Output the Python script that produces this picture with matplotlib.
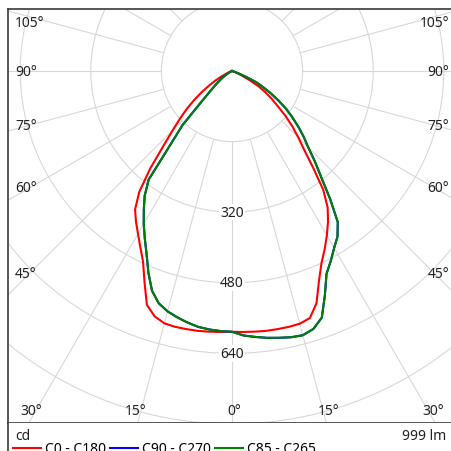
import numpy as np
import matplotlib
matplotlib.use("Agg")
import matplotlib.pyplot as plt
from matplotlib.patches import Circle

plt.rcParams["font.family"] = ["Noto Sans", "DejaVu Sans"]

# luminous intensity (cd) against gamma angle, one list per half plane
gamma = [0, 2.5, 5, 7.5, 10, 12.5, 15, 17.5, 20, 22.5, 25, 27.5, 30, 32.5, 35, 37.5, 40,
         42.5, 45, 47.5, 50, 52.5, 55, 57.5, 60, 62.5, 65, 67.5, 70, 72.5, 75, 80, 85, 90]
c0 = [591, 592, 593, 594, 594, 594, 593, 587, 560, 515, 480, 455, 430, 405, 378, 340, 286,
      242, 212, 185, 158, 130, 110, 90, 70, 45, 25, 14, 8, 4, 2, 0, 0, 0]
c180 = [591, 592, 593, 594, 594, 594, 592, 583, 564, 518, 477, 450, 426, 405, 383, 345, 288,
        230, 190, 160, 134, 108, 84, 62, 44, 28, 15, 8, 4, 1, 0, 0, 0, 0]
c90 = [591, 600, 605, 610, 614, 618, 620, 613, 595, 550, 507, 485, 463, 445, 418, 365, 315,
       278, 244, 220, 196, 172, 150, 125, 102, 80, 62, 35, 15, 6, 2, 0, 0, 0]
c270 = [591, 590, 588, 585, 579, 572, 564, 552, 530, 495, 458, 428, 400, 372, 345, 310, 215,
        165, 95, 65, 48, 35, 25, 16, 10, 6, 3, 1, 0, 0, 0, 0, 0, 0]
c85 = [591, 600, 605, 610, 614, 618, 620, 613, 595, 550, 507, 485, 463, 445, 418, 365, 315,
       278, 244, 220, 196, 172, 150, 125, 102, 80, 62, 35, 15, 6, 2, 0, 0, 0]
c265 = [591, 590, 588, 585, 579, 572, 564, 552, 530, 495, 458, 428, 400, 372, 345, 310, 215,
        165, 95, 65, 48, 35, 25, 16, 10, 6, 3, 1, 0, 0, 0, 0, 0, 0]

series = [
    ("C0 - C180", c0, c180, "#ff0000"),
    ("C90 - C270", c90, c270, "#0000ff"),
    ("C85 - C265", c85, c265, "#008000"),
]
rings = [160, 320, 480, 640, 800, 960]
ring_labels = [320, 480, 640]
side_angles = [45, 60, 75, 90, 105]
bottom_angles = [0, 15, 30]
unit_text = "cd"
flux_text = "999 lm"

W = 452
s = 0.44125  # px per cd
fs = 10
txt = "#222222"
fig = plt.figure(figsize=(W / 100, W / 100), dpi=100)
ax = fig.add_axes([8 / W, 28 / W, 448 / W, 414 / W])
ax.set_xlim(-224 / s, 224 / s)
ax.set_ylim(-352 / s, 62 / s)
ax.set_xticks([])
ax.set_yticks([])
for side in ["top", "left", "bottom"]:
    ax.spines[side].set_color("#3a3a3a")
    ax.spines[side].set_linewidth(1.2)
ax.spines["right"].set_visible(False)

grid = "#d8d8d8"
for r in rings:
    ax.add_patch(Circle((0, 0), r, fill=False, ec=grid, lw=0.8, zorder=1))
for a in range(0, 360, 15):
    t = np.radians(a)
    ax.plot([160 * np.sin(t), 1500 * np.sin(t)], [-160 * np.cos(t), -1500 * np.cos(t)],
            color=grid, lw=0.8, zorder=1)

for r in ring_labels:
    ax.text(0, -r, str(r), ha="center", va="center", fontsize=fs, color=txt,
            bbox=dict(boxstyle="square,pad=0.05", fc="white", ec="none"), zorder=2)

# angle labels along the frame
for a in side_angles:
    y = -(202 / s) / np.tan(np.radians(a)) if a != 90 else 0
    y = min(y, 49 / s)
    ax.text(-217 / s, y, f"{a}°", ha="left", va="center", fontsize=fs, color=txt)
    ax.text(217 / s, y, f"{a}°", ha="right", va="center", fontsize=fs, color=txt)
for a in bottom_angles:
    d = (340 * np.tan(np.radians(a)) + (5 if a else 2)) / s
    ax.text(-d if a else d, -340 / s, f"{a}°", ha="center", va="center", fontsize=fs, color=txt)
    if a:
        ax.text(d, -340 / s, f"{a}°", ha="center", va="center", fontsize=fs, color=txt)

g = np.radians(gamma)
handles = []
for name, right, left, col in series:
    right = np.array(right, float)
    left = np.array(left, float)
    x = np.concatenate([-left[::-1] * np.sin(g[::-1]), right * np.sin(g)])
    y = np.concatenate([-left[::-1] * np.cos(g[::-1]), -right * np.cos(g)])
    (ln,) = ax.plot(x, y, color=col, lw=1.5, zorder=3, label=name)
    handles.append(ln)

# footer box
fax = fig.add_axes([8 / W, -14 / W, 448 / W, 42 / W])
fax.set_xlim(0, 448)
fax.set_ylim(0, 42)
fax.set_xticks([])
fax.set_yticks([])
for side in ["top", "right", "bottom"]:
    fax.spines[side].set_visible(False)
fax.spines["left"].set_color("#3a3a3a")
fax.spines["left"].set_linewidth(1.2)
fax.text(7, 29, unit_text, ha="left", va="center", fontsize=fs, color=txt)
fax.text(438, 29, flux_text, ha="right", va="center", fontsize=fs, color=txt)
fax.legend(handles=handles, loc="center left", bbox_to_anchor=(5 / 448, 16 / 42), ncol=3,
           frameon=False, fontsize=fs, handlelength=2.0, handletextpad=0.3,
           columnspacing=0.3, borderpad=0, borderaxespad=0)

fig.savefig("out.png", dpi=100)
